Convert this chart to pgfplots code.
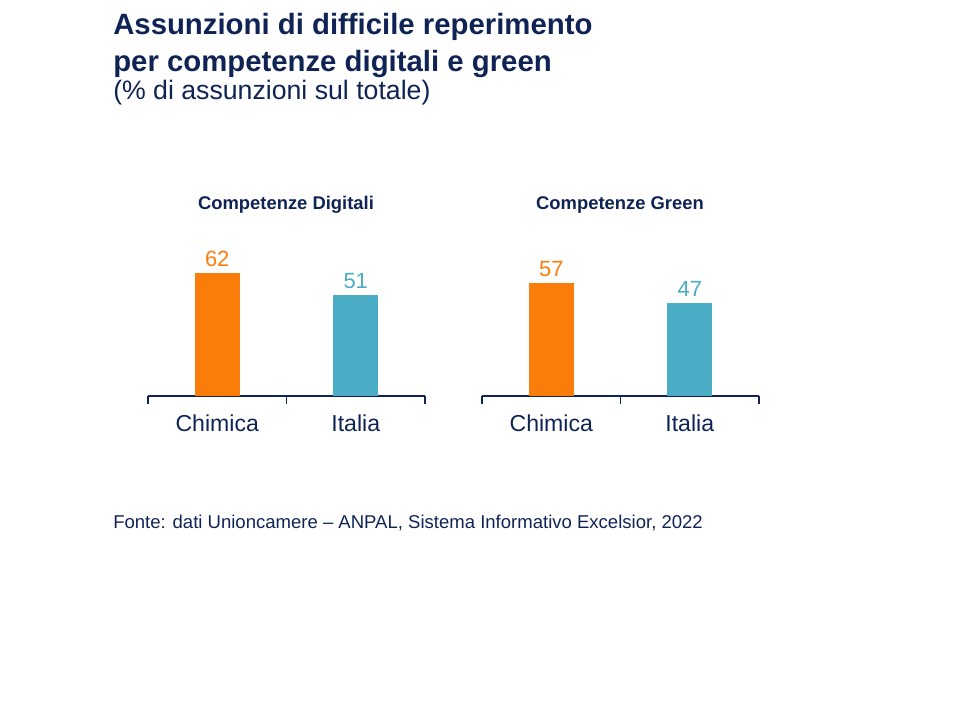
\documentclass[border=0pt]{standalone}
\usepackage{fontspec}
\setmainfont{Liberation Sans}
\usepackage{pgfplots}
\pgfplotsset{compat=1.18}
\definecolor{navy}{RGB}{15,35,85}
\definecolor{orangebar}{RGB}{250,125,12}
\definecolor{tealbar}{RGB}{75,172,198}
\pgfplotsset{
  panel/.style={
    scale only axis,
    width=207.75pt, height=118.8pt,
    anchor=south west,
    xmin=-0.5, xmax=1.5, ymin=0, ymax=80,
    axis x line=bottom, axis y line=none,
    x axis line style={-, draw=navy, line width=0.8pt},
    xtick={0,1}, xticklabels={Chimica,Italia},
    major x tick style={draw=none},
    minor xtick={-0.5,0.5,1.5},
    minor x tick style={draw=navy, line width=0.8pt},
    minor tick length=6pt,
    tick align=outside,
    xticklabel style={font=\fontsize{17.3}{20}\selectfont, text=navy, inner sep=0pt, anchor=north, yshift=-10pt},
    /pgf/number format/assume math mode=true,
    clip=false,
  },
  barp/.style={ybar, bar width=33.75pt, draw=none, fill=#1,
    nodes near coords,
    every node near coord/.append style={font=\fontsize{16.5}{20}\selectfont, text=#1, inner sep=0pt, anchor=south, yshift=4.5pt}},
}
\begin{document}
\begin{tikzpicture}[x=0.75pt,y=0.75pt]
\path (0,0) rectangle (960,720);
% titles
\node[anchor=base west, inner sep=0pt, text=navy, font=\fontsize{22}{26}\selectfont\bfseries] at (113,685) {Assunzioni di difficile reperimento};
\node[anchor=base west, inner sep=0pt, text=navy, font=\fontsize{22}{26}\selectfont\bfseries] at (113,648) {per competenze digitali e green};
\node[anchor=base west, inner sep=0pt, text=navy, font=\fontsize{20}{24}\selectfont] at (113,620) {(\% di assunzioni sul totale)};
\node[anchor=base, inner sep=0pt, text=navy, font=\fontsize{13.8}{16}\selectfont\bfseries] at (286,510) {Competenze Digitali};
\node[anchor=base, inner sep=0pt, text=navy, font=\fontsize{13.8}{16}\selectfont\bfseries] at (620,510) {Competenze Green};
\node[anchor=base west, inner sep=0pt, text=navy, font=\fontsize{13.9}{16}\selectfont] at (113,191) {Fonte: dati Unioncamere -- ANPAL, Sistema Informativo Excelsior, 2022};

\begin{axis}[panel, at={(111pt,243pt)}]
\addplot[barp=orangebar] coordinates {(0,62)};
\addplot[barp=tealbar] coordinates {(1,51)};
\end{axis}

\begin{axis}[panel, at={(361.5pt,243pt)}]
\addplot[barp=orangebar] coordinates {(0,57)};
\addplot[barp=tealbar] coordinates {(1,47)};
\end{axis}
\end{tikzpicture}
\end{document}
